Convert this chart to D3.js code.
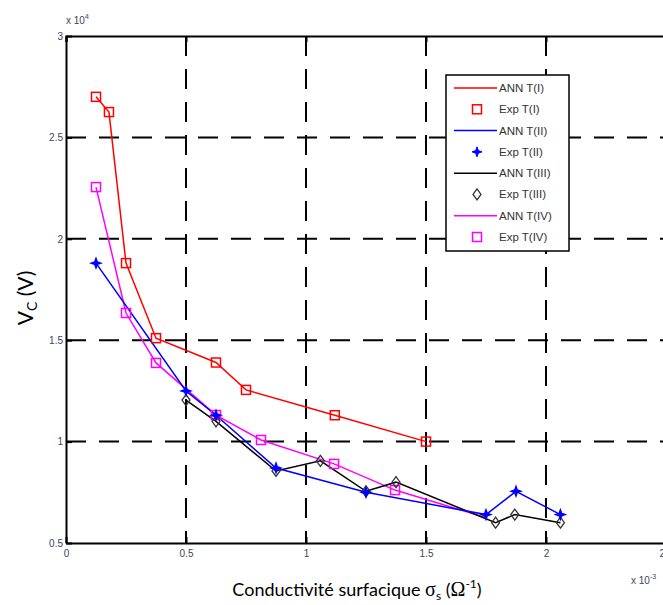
<!DOCTYPE html>
<html><head><meta charset="utf-8">
<script src="https://cdn.jsdelivr.net/npm/d3@7"></script>
<style>html,body{margin:0;padding:0;background:#fff;overflow:hidden}svg{display:block}</style>
</head><body>
<svg id="chart" width="663" height="605"></svg>
<script>
const xTicks = [0, 0.5, 1, 1.5, 2, 2.5];
const yTicks = [0.5, 1, 1.5, 2, 2.5, 3];
const xTickLabels = ["0", "0.5", "1", "1.5", "2", "2.5"];
const yTickLabels = ["0.5", "1", "1.5", "2", "2.5", "3"];

const s1x = [0.125, 0.179, 0.25, 0.375, 0.625, 0.75, 1.12, 1.5];
const s1y = [2.70, 2.625, 1.88, 1.51, 1.39, 1.255, 1.13, 1.00];
const s2x = [0.125, 0.5, 0.625, 0.875, 1.25, 1.75, 1.875, 2.06];
const s2y = [1.88, 1.25, 1.13, 0.87, 0.75, 0.64, 0.755, 0.64];
const s3x = [0.5, 0.625, 0.875, 1.06, 1.25, 1.375, 1.79, 1.87, 2.06];
const s3y = [1.205, 1.10, 0.855, 0.905, 0.755, 0.80, 0.60, 0.64, 0.60];
const s4x = [0.125, 0.25, 0.375, 0.625, 0.8125, 1.117, 1.371];
const s4y = [2.255, 1.634, 1.388, 1.131, 1.008, 0.89, 0.761];
const s4annX = [0.125, 0.25, 0.375, 0.625, 0.8125, 1.117, 1.371, 1.75];
const s4annY = [2.255, 1.634, 1.388, 1.131, 1.008, 0.89, 0.761, 0.625];

const legendLabels = ["ANN T(I)", "Exp T(I)", "ANN T(II)", "Exp T(II)", "ANN T(III)", "Exp T(III)", "ANN T(IV)", "Exp T(IV)"];
const colors = ["#ff0000", "#0000ff", "#000000", "#ff00ff"];

const svg = d3.select("#chart");
const x = d3.scaleLinear().domain([0, 2.5]).range([66, 666]);
const y = d3.scaleLinear().domain([0.5, 3]).range([543, 36]);

// grid
const grid = svg.append("g");
xTicks.slice(1, -1).forEach(v => {
  grid.append("line").attr("x1", x(v)).attr("x2", x(v)).attr("y1", y(3)).attr("y2", y(0.5))
    .attr("stroke", "#000").attr("stroke-width", 2).attr("stroke-dasharray", "20,13");
});
yTicks.slice(1, -1).forEach(v => {
  grid.append("line").attr("x1", x(0)).attr("x2", x(2.5)).attr("y1", y(v)).attr("y2", y(v))
    .attr("stroke", "#000").attr("stroke-width", 2).attr("stroke-dasharray", "20,13");
});

// axes
const xAxisB = d3.axisBottom(x).tickValues(xTicks).tickFormat((d, i) => xTickLabels[i]).tickSize(0).tickPadding(7);
const xAxisT = d3.axisTop(x).tickValues(xTicks).tickFormat("").tickSize(-6);
const yAxisL = d3.axisLeft(y).tickValues(yTicks).tickFormat((d, i) => yTickLabels[i]).tickSize(0).tickPadding(3);
const gxb = svg.append("g").attr("transform", `translate(0,${y(0.5)})`).call(xAxisB);
const gxt = svg.append("g").attr("transform", `translate(0,${y(3)})`).call(xAxisT);
const gyl = svg.append("g").attr("transform", `translate(${x(0)},0)`).call(yAxisL);
[gxb, gxt, gyl].forEach(g => {
  g.select(".domain").attr("stroke", "#000").attr("stroke-width", 2);
  g.selectAll("line").attr("stroke", "#000").attr("stroke-width", 2);
  g.selectAll("text").attr("font-family", "Liberation Sans, Arial, sans-serif").attr("font-size", 10).attr("fill", "#3a4660");
});
svg.append("g").attr("transform", `translate(0,${y(0.5)})`).call(d3.axisBottom(x).tickValues(xTicks).tickFormat("").tickSize(-6))
  .call(g => { g.select(".domain").remove(); g.selectAll("line").attr("stroke", "#000").attr("stroke-width", 2); });
svg.append("g").attr("transform", `translate(${x(0)},0)`).call(d3.axisLeft(y).tickValues(yTicks).tickFormat("").tickSize(-6))
  .call(g => { g.select(".domain").remove(); g.selectAll("line").attr("stroke", "#000").attr("stroke-width", 2); });

// exponent labels
const e1 = svg.append("text").attr("x", 66).attr("y", 24).attr("font-family", "Liberation Sans, Arial, sans-serif")
  .attr("font-size", 10).attr("fill", "#3a4660");
e1.append("tspan").text("x 10");
e1.append("tspan").attr("dy", -5).attr("font-size", 7).text("4");
const e2 = svg.append("text").attr("x", 631).attr("y", 584).attr("font-family", "Liberation Sans, Arial, sans-serif")
  .attr("font-size", 10).attr("fill", "#3a4660");
e2.append("tspan").text("x 10");
e2.append("tspan").attr("dy", -5).attr("font-size", 7).text("-3");

// series
const line = d3.line().x(d => x(d[0])).y(d => y(d[1]));
const zip = (a, b) => a.map((v, i) => [v, b[i]]);
const plot = svg.append("g");
plot.append("path").datum(zip(s1x, s1y)).attr("d", line).attr("fill", "none").attr("stroke", colors[0]).attr("stroke-width", 1.5);
plot.append("path").datum(zip(s4annX, s4annY)).attr("d", line).attr("fill", "none").attr("stroke", colors[3]).attr("stroke-width", 1.5);
plot.append("path").datum(zip(s3x, s3y)).attr("d", line).attr("fill", "none").attr("stroke", colors[2]).attr("stroke-width", 1.5);
plot.append("path").datum(zip(s2x, s2y)).attr("d", line).attr("fill", "none").attr("stroke", colors[1]).attr("stroke-width", 1.5);

const starPath = "M0,-5L1.3,-1.3L5,0L1.3,1.3L0,5L-1.3,1.3L-5,0L-1.3,-1.3Z";
const diamondPath = "M0,-5.5L4,0L0,5.5L-4,0Z";
function squares(g, data, c) {
  g.selectAll(null).data(data).enter().append("rect")
    .attr("x", d => x(d[0]) - 4.5).attr("y", d => y(d[1]) - 4.5).attr("width", 9).attr("height", 9)
    .attr("fill", "none").attr("stroke", c).attr("stroke-width", 1.5);
}
function paths(g, data, p, fill, stroke) {
  g.selectAll(null).data(data).enter().append("path").attr("d", p)
    .attr("transform", d => `translate(${x(d[0])},${y(d[1])})`)
    .attr("fill", fill).attr("stroke", stroke).attr("stroke-width", 1.3);
}
squares(plot, zip(s1x, s1y), colors[0]);
squares(plot, zip(s4x, s4y), colors[3]);
paths(plot, zip(s3x, s3y), diamondPath, "none", "#333");
paths(plot, zip(s2x, s2y), starPath, colors[1], colors[1]);

// legend
const lg = svg.append("g");
lg.append("rect").attr("x", 446).attr("y", 75).attr("width", 123).attr("height", 176)
  .attr("fill", "#fff").attr("stroke", "#000").attr("stroke-width", 1.5);
const rowY = d3.scaleLinear().domain([0, 7]).range([88, 237]);
legendLabels.forEach((lab, i) => {
  const yy = rowY(i);
  const c = colors[Math.floor(i / 2)];
  if (i % 2 === 0) {
    lg.append("line").attr("x1", 454).attr("x2", 497).attr("y1", yy).attr("y2", yy).attr("stroke", c).attr("stroke-width", 1.5);
  } else {
    const k = Math.floor(i / 2);
    if (k === 0 || k === 3) {
      lg.append("rect").attr("x", 477 - 4.5).attr("y", yy - 4.5).attr("width", 9).attr("height", 9)
        .attr("fill", "none").attr("stroke", c).attr("stroke-width", 1.5);
    } else if (k === 1) {
      lg.append("path").attr("d", starPath).attr("transform", `translate(477,${yy})`).attr("fill", c).attr("stroke", c);
    } else {
      lg.append("path").attr("d", diamondPath).attr("transform", `translate(477,${yy})`).attr("fill", "none").attr("stroke", "#333").attr("stroke-width", 1.3);
    }
  }
  lg.append("text").attr("x", 499).attr("y", yy + 4).attr("font-family", "Liberation Sans, Arial, sans-serif")
    .attr("font-size", 11.5).attr("fill", "#333").text(lab);
});

// axis titles
const xt = svg.append("text").attr("x", 357).attr("y", 596).attr("text-anchor", "middle")
  .attr("font-family", "Lato, 'Open Sans', sans-serif").attr("font-size", 18).attr("fill", "#000");
xt.append("tspan").text("Conductivité surfacique ");
xt.append("tspan").attr("font-family", "Liberation Serif, serif").attr("font-size", 20).text("σ");
xt.append("tspan").attr("dy", 4).attr("font-size", 12).text("s");
xt.append("tspan").attr("dy", -4).text(" (");
xt.append("tspan").attr("font-family", "Liberation Serif, serif").attr("font-size", 20).text("Ω");
xt.append("tspan").attr("dy", -8).attr("font-size", 12).text("-1");
xt.append("tspan").attr("dy", 8).text(")");

const yt = svg.append("text").attr("transform", "translate(33,298) rotate(-90)").attr("text-anchor", "middle")
  .attr("font-family", "Lato, 'Open Sans', sans-serif").attr("font-size", 21).attr("fill", "#000");
yt.append("tspan").text("V");
yt.append("tspan").attr("dy", 4).attr("font-size", 14).text("C");
yt.append("tspan").attr("dy", -4).text(" (V)");
</script>
</body></html>
